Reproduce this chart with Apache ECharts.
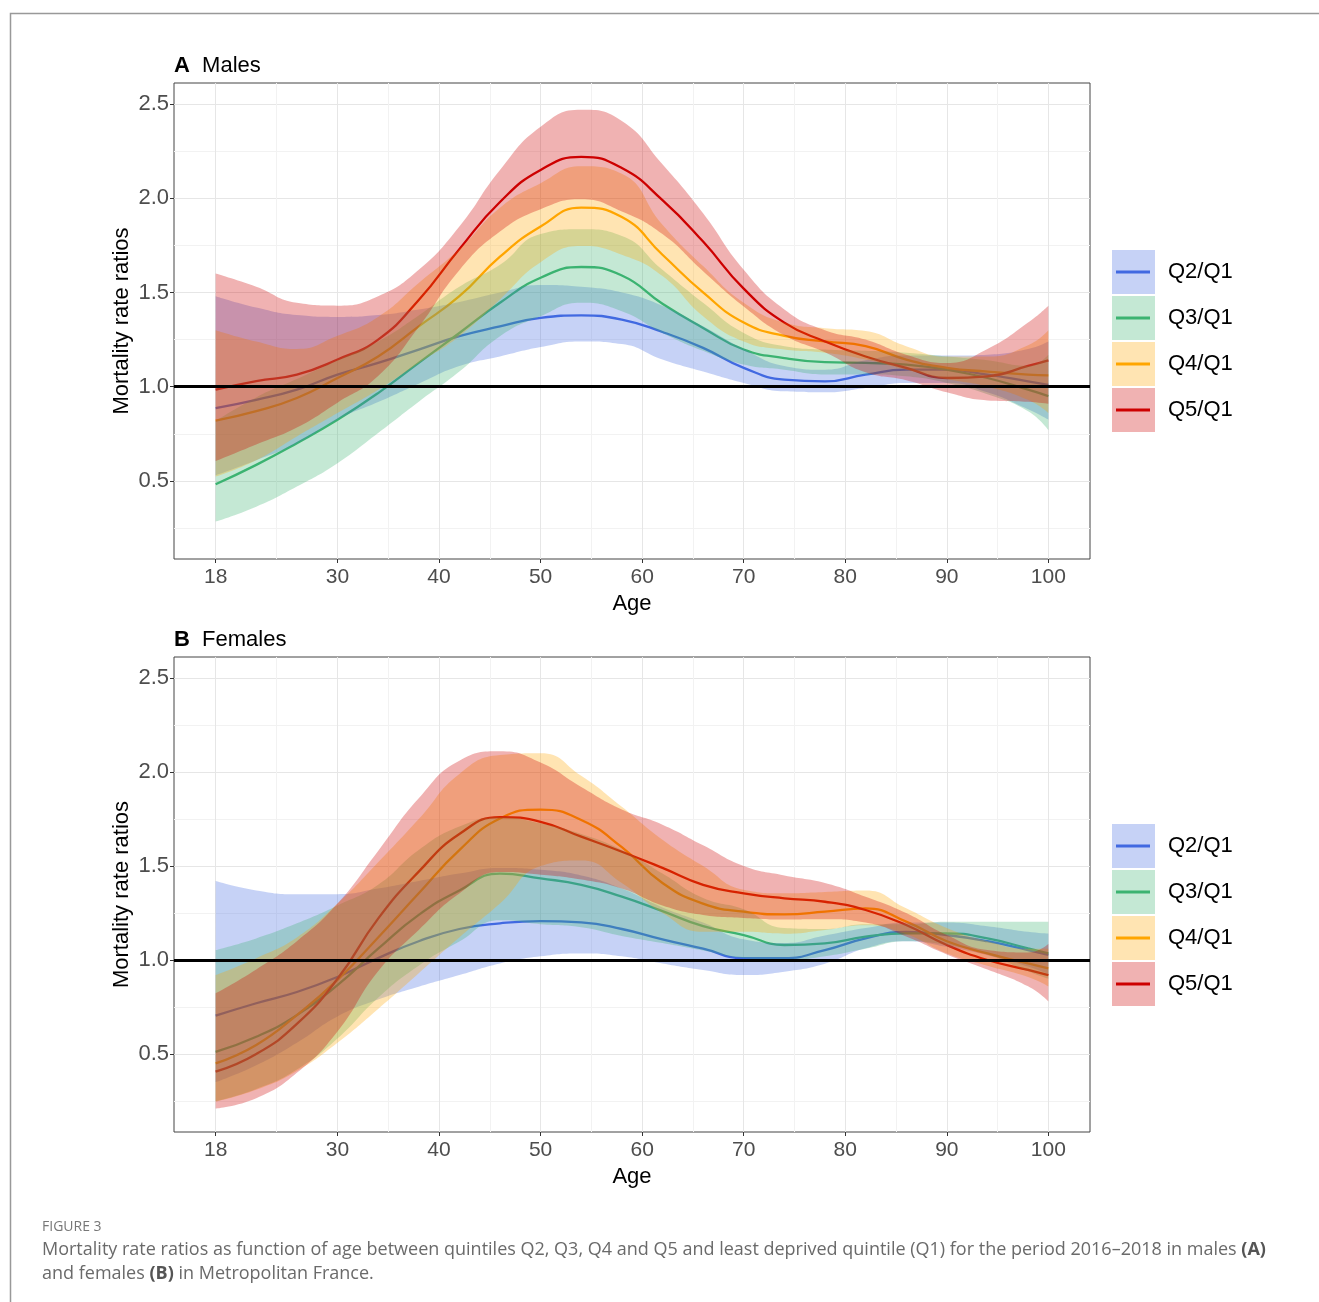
<!DOCTYPE html>
<html>
<head>
<meta charset="utf-8">
<title>Mortality rate ratios by age</title>
<script src="https://cdn.jsdelivr.net/npm/echarts@6.0.0/dist/echarts.min.js"></script>
<style>
  html, body { margin: 0; padding: 0; background: #fff; }
  #chart { width: 1319px; height: 1302px; }
</style>
</head>
<body>
<div id="chart"></div>
<script>
const ages = [18, 22, 26, 30, 34, 38, 42, 46, 50, 54, 58, 62, 66, 70, 74, 78, 82, 86, 90, 94, 98, 100];

const quintiles = ['Q2/Q1', 'Q3/Q1', 'Q4/Q1', 'Q5/Q1'];
const xTicks = [18, 30, 40, 50, 60, 70, 80, 90, 100];
const xMinor = [24, 35, 45, 55, 65, 75, 85, 95];
const yTicks = [0.5, 1.0, 1.5, 2.0, 2.5];
const yMinor = [0.25, 0.75, 1.25, 1.75, 2.25];

// A - Males
const mQ2   = [0.886, 0.93, 0.984, 1.064, 1.126, 1.197, 1.268, 1.32, 1.365, 1.378, 1.356, 1.29, 1.206, 1.10, 1.037, 1.028, 1.064, 1.09, 1.09, 1.064, 1.028, 1.01];
const mQ2lo = [0.53, 0.61, 0.70, 0.826, 0.918, 1.016, 1.109, 1.16, 1.21, 1.24, 1.226, 1.144, 1.08, 1.02, 0.975, 0.97, 0.993, 1.02, 1.02, 0.97, 0.88, 0.825];
const mQ2hi = [1.48, 1.42, 1.38, 1.37, 1.38, 1.41, 1.45, 1.50, 1.54, 1.53, 1.50, 1.43, 1.32, 1.20, 1.11, 1.09, 1.14, 1.165, 1.165, 1.17, 1.20, 1.24];

const mQ3   = [0.482, 0.585, 0.70, 0.824, 0.966, 1.126, 1.285, 1.445, 1.578, 1.635, 1.59, 1.44, 1.312, 1.197, 1.152, 1.13, 1.126, 1.117, 1.09, 1.046, 0.984, 0.95];
const mQ3lo = [0.284, 0.363, 0.47, 0.594, 0.754, 0.92, 1.08, 1.268, 1.374, 1.445, 1.40, 1.285, 1.19, 1.117, 1.09, 1.065, 1.065, 1.055, 1.02, 0.96, 0.87, 0.77];
const mQ3hi = [0.818, 0.943, 1.04, 1.14, 1.24, 1.378, 1.53, 1.647, 1.81, 1.835, 1.80, 1.62, 1.445, 1.285, 1.215, 1.197, 1.19, 1.18, 1.16, 1.14, 1.11, 1.17];

const mQ4   = [0.82, 0.87, 0.94, 1.046, 1.16, 1.32, 1.48, 1.69, 1.85, 1.95, 1.90, 1.70, 1.50, 1.34, 1.27, 1.24, 1.215, 1.144, 1.10, 1.08, 1.064, 1.06];
const mQ4lo = [0.523, 0.61, 0.736, 0.86, 0.984, 1.126, 1.268, 1.463, 1.66, 1.746, 1.70, 1.587, 1.374, 1.24, 1.197, 1.18, 1.144, 1.09, 1.04, 1.0, 0.93, 0.86];
const mQ4hi = [1.30, 1.24, 1.20, 1.27, 1.37, 1.55, 1.73, 1.95, 2.08, 2.17, 2.13, 1.86, 1.64, 1.445, 1.34, 1.31, 1.295, 1.215, 1.16, 1.16, 1.22, 1.30];

const mQ5   = [0.984, 1.03, 1.064, 1.144, 1.25, 1.46, 1.73, 1.98, 2.15, 2.22, 2.16, 1.99, 1.77, 1.52, 1.34, 1.24, 1.16, 1.10, 1.046, 1.055, 1.11, 1.14];
const mQ5lo = [0.605, 0.693, 0.783, 0.915, 1.056, 1.316, 1.618, 1.823, 1.942, 1.995, 1.93, 1.81, 1.613, 1.426, 1.273, 1.183, 1.076, 1.034, 0.97, 0.927, 0.92, 0.909];
const mQ5hi = [1.60, 1.53, 1.445, 1.43, 1.48, 1.62, 1.85, 2.15, 2.38, 2.47, 2.41, 2.18, 1.92, 1.62, 1.41, 1.30, 1.25, 1.17, 1.126, 1.20, 1.34, 1.43];

// B - Females
const fQ2   = [0.704, 0.77, 0.83, 0.91, 1.01, 1.10, 1.165, 1.195, 1.207, 1.20, 1.165, 1.11, 1.06, 1.01, 1.01, 1.053, 1.115, 1.15, 1.133, 1.10, 1.053, 1.027];
const fQ2lo = [0.35, 0.44, 0.56, 0.70, 0.79, 0.858, 0.92, 0.982, 1.02, 1.035, 1.02, 0.982, 0.947, 0.92, 0.938, 0.98, 1.062, 1.10, 1.07, 1.025, 0.965, 0.925];
const fQ2hi = [1.42, 1.37, 1.35, 1.35, 1.38, 1.42, 1.46, 1.49, 1.48, 1.45, 1.38, 1.28, 1.20, 1.11, 1.09, 1.13, 1.17, 1.20, 1.20, 1.18, 1.15, 1.14];

const fQ3   = [0.512, 0.592, 0.707, 0.867, 1.06, 1.24, 1.37, 1.46, 1.434, 1.40, 1.337, 1.26, 1.18, 1.133, 1.08, 1.089, 1.124, 1.142, 1.142, 1.115, 1.062, 1.035];
const fQ3lo = [0.249, 0.314, 0.418, 0.583, 0.80, 0.97, 1.098, 1.211, 1.19, 1.174, 1.128, 1.09, 1.05, 1.01, 1.0, 1.02, 1.06, 1.10, 1.08, 1.03, 0.94, 0.90];
const fQ3hi = [1.053, 1.115, 1.195, 1.29, 1.40, 1.585, 1.71, 1.76, 1.727, 1.67, 1.585, 1.46, 1.33, 1.27, 1.17, 1.165, 1.19, 1.19, 1.204, 1.204, 1.204, 1.204];

const fQ4   = [0.45, 0.548, 0.707, 0.894, 1.12, 1.355, 1.585, 1.753, 1.80, 1.745, 1.60, 1.41, 1.30, 1.257, 1.243, 1.257, 1.275, 1.204, 1.10, 1.035, 0.982, 0.956];
const fQ4lo = [0.247, 0.31, 0.41, 0.56, 0.74, 0.93, 1.12, 1.30, 1.50, 1.53, 1.41, 1.25, 1.15, 1.15, 1.14, 1.16, 1.185, 1.137, 1.035, 0.97, 0.91, 0.86];
const fQ4hi = [0.92, 1.01, 1.12, 1.30, 1.52, 1.75, 1.99, 2.09, 2.10, 1.98, 1.815, 1.64, 1.50, 1.374, 1.355, 1.362, 1.37, 1.275, 1.17, 1.10, 1.06, 1.06];

const fQ5   = [0.406, 0.50, 0.66, 0.90, 1.22, 1.47, 1.67, 1.76, 1.735, 1.656, 1.576, 1.49, 1.40, 1.355, 1.328, 1.31, 1.266, 1.186, 1.08, 1.0, 0.947, 0.92];
const fQ5lo = [0.21, 0.265, 0.40, 0.62, 0.94, 1.16, 1.354, 1.468, 1.454, 1.428, 1.38, 1.29, 1.24, 1.224, 1.216, 1.217, 1.199, 1.125, 1.03, 0.95, 0.86, 0.78];
const fQ5hi = [0.823, 0.95, 1.10, 1.30, 1.58, 1.86, 2.06, 2.11, 2.05, 1.92, 1.80, 1.72, 1.61, 1.50, 1.45, 1.41, 1.337, 1.25, 1.133, 1.053, 1.04, 1.085];

const lineColors = ['#4169E1', '#3CB371', '#FFA500', '#CD0000'];
const FONT = '"Liberation Sans", Arial, sans-serif';

const panels = [
  { title: 'Males', letter: 'A', top: 83, height: 476,
    bands: [[mQ2, mQ2lo, mQ2hi], [mQ3, mQ3lo, mQ3hi], [mQ4, mQ4lo, mQ4hi], [mQ5, mQ5lo, mQ5hi]] },
  { title: 'Females', letter: 'B', top: 657, height: 475,
    bands: [[fQ2, fQ2lo, fQ2hi], [fQ3, fQ3lo, fQ3hi], [fQ4, fQ4lo, fQ4hi], [fQ5, fQ5lo, fQ5hi]] }
];

const X_MIN = 13.9, X_MAX = 104.1;
const Y_MIN = 0.0853, Y_MAX = 2.6117;

const grids = [], xAxes = [], yAxes = [], series = [], titles = [], legends = [];

panels.forEach((p, idx) => {
  grids.push({
    left: 174, top: p.top, width: 916, height: p.height,
    show: true, borderColor: '#444', borderWidth: 1, containLabel: false
  });

  // main axes: labels, ticks and major grid lines
  xAxes.push({
    type: 'value', gridIndex: idx, min: X_MIN, max: X_MAX,
    name: 'Age', nameLocation: 'middle', nameGap: 34, nameMoveOverlap: false,
    nameTextStyle: { fontSize: 22, color: '#000', fontFamily: FONT },
    axisLine: { show: false },
    axisTick: { show: true, length: 4, customValues: xTicks, lineStyle: { color: '#333' } },
    axisLabel: { customValues: xTicks, margin: 8, fontSize: 21, color: '#4d4d4d', fontFamily: FONT },
    splitLine: { show: true, lineStyle: { color: '#e6e6e6', width: 1 } }
  });
  // minor grid lines only
  xAxes.push({
    type: 'value', gridIndex: idx, min: X_MIN, max: X_MAX, position: 'top',
    axisLine: { show: false },
    axisTick: { show: false, customValues: xMinor },
    axisLabel: { show: false },
    splitLine: { show: true, lineStyle: { color: '#f2f2f2', width: 1 } }
  });
  yAxes.push({
    type: 'value', gridIndex: idx, min: Y_MIN, max: Y_MAX,
    name: 'Mortality rate ratios', nameLocation: 'middle', nameGap: 41, nameMoveOverlap: false,
    nameTextStyle: { fontSize: 22, color: '#000', fontFamily: FONT },
    axisLine: { show: false },
    axisTick: { show: true, length: 4, customValues: yTicks, lineStyle: { color: '#333' } },
    axisLabel: { customValues: yTicks, margin: 5, fontSize: 22, color: '#4d4d4d', fontFamily: FONT,
                 formatter: v => v.toFixed(1) },
    splitLine: { show: true, lineStyle: { color: '#e6e6e6', width: 1 } }
  });
  yAxes.push({
    type: 'value', gridIndex: idx, min: Y_MIN, max: Y_MAX, position: 'right',
    axisLine: { show: false },
    axisTick: { show: false, customValues: yMinor },
    axisLabel: { show: false },
    splitLine: { show: true, lineStyle: { color: '#f2f2f2', width: 1 } }
  });

  const ax = idx * 2;
  // fitted lines go under the ribbons, as in the original plot
  p.bands.forEach((b, k) => {
    series.push({
      name: quintiles[k], type: 'line', xAxisIndex: ax, yAxisIndex: ax,
      data: ages.map((a, i) => [a, b[0][i]]),
      smooth: 0.5, symbol: 'none', showSymbol: false, silent: true,
      lineStyle: { color: lineColors[k], width: 2.3 },
      itemStyle: { color: lineColors[k] }, z: 2
    });
  });
  // ribbons: lower bound + (upper - lower) stacked; value column first so the
  // stack runs on y, not on age
  p.bands.forEach((b, k) => {
    const stack = 'ci-' + idx + '-' + k;
    series.push({
      name: quintiles[k], type: 'line', xAxisIndex: ax, yAxisIndex: ax, stack: stack,
      encode: { x: 1, y: 0 },
      data: ages.map((a, i) => [b[1][i], a]),
      smooth: 0.5, symbol: 'none', silent: true,
      lineStyle: { opacity: 0 }, z: 3
    });
    const s = {
      name: quintiles[k], type: 'line', xAxisIndex: ax, yAxisIndex: ax, stack: stack,
      encode: { x: 1, y: 0 },
      data: ages.map((a, i) => [b[2][i] - b[1][i], a]),
      smooth: 0.5, symbol: 'none', silent: true,
      lineStyle: { opacity: 0 },
      areaStyle: { color: lineColors[k], opacity: 0.3 }, z: 3
    };
    if (k === 3) {
      s.markLine = {
        silent: true, symbol: 'none', label: { show: false },
        lineStyle: { color: '#000', width: 3, type: 'solid' },
        emphasis: { disabled: true },
        data: [{ yAxis: 1 }]
      };
    }
    series.push(s);
  });

  titles.push({
    left: 174, top: p.top - 28, padding: 0,
    text: '{l|' + p.letter + '}  {t|' + p.title + '}',
    textStyle: {
      fontSize: 22, fontWeight: 'normal', fontFamily: FONT, color: '#000',
      rich: {
        l: { fontSize: 22, fontWeight: 'bold', fontFamily: FONT, color: '#000' },
        t: { fontSize: 22, fontWeight: 'normal', fontFamily: FONT, color: '#000' }
      }
    }
  });

  const legendTop = p.top + 167;
  // filled keys
  legends.push({
    left: 1112, top: legendTop, orient: 'vertical', padding: 0,
    itemWidth: 43, itemHeight: 44, itemGap: 2, selectedMode: false,
    formatter: () => '', textStyle: { fontSize: 10 },
    data: quintiles.map((q, k) => ({
      name: q, icon: 'rect',
      itemStyle: { color: lineColors[k], opacity: 0.3, borderWidth: 0 }
    })),
    z: 4
  });
  // line swatches and labels
  legends.push({
    left: 1116, top: legendTop - 1, orient: 'vertical', padding: 0,
    itemWidth: 34, itemHeight: 3, itemGap: 0, selectedMode: false,
    textStyle: { fontSize: 22, lineHeight: 46, color: '#000', fontFamily: FONT, padding: [0, 0, 0, 13] },
    data: quintiles.map((q, k) => ({
      name: q, icon: 'rect',
      itemStyle: { color: lineColors[k], opacity: 1, borderWidth: 0 }
    })),
    z: 5
  });
});

const CAP = '"Open Sans", "Lato", sans-serif';
titles.push({
  left: 42, top: 1218, padding: 0,
  text: 'FIGURE 3',
  textStyle: { fontSize: 14, lineHeight: 18, color: '#777', fontWeight: 'normal', fontFamily: CAP }
});
titles.push({
  left: 42, top: 1238, padding: 0,
  text: '{n|Mortality rate ratios as function of age between quintiles Q2, Q3, Q4 and Q5 and least deprived quintile (Q1) for the period 2016\u20132018 in males }{b|(A)}\n' +
        '{n|and females }{b|(B)}{n| in Metropolitan France.}',
  textStyle: {
    fontSize: 18, lineHeight: 24, color: '#666', fontWeight: 'normal', fontFamily: CAP,
    rich: {
      n: { fontSize: 18, lineHeight: 24, color: '#6a6a6a', fontWeight: 'normal', fontFamily: CAP },
      b: { fontSize: 18, lineHeight: 24, color: '#555', fontWeight: 'bold', fontFamily: CAP }
    }
  }
});

const chart = echarts.init(document.getElementById('chart'), null, { renderer: 'canvas' });
chart.setOption({
  animation: false,
  backgroundColor: '#fff',
  textStyle: { fontFamily: FONT },
  title: titles,
  legend: legends,
  grid: grids,
  xAxis: xAxes,
  yAxis: yAxes,
  series: series,
  graphic: [{
    type: 'rect', silent: true, z: 0,
    shape: { x: 10.5, y: 13.5, width: 1400, height: 1400 },
    style: { fill: 'none', stroke: '#999', lineWidth: 1.5 }
  }]
});
</script>
</body>
</html>
